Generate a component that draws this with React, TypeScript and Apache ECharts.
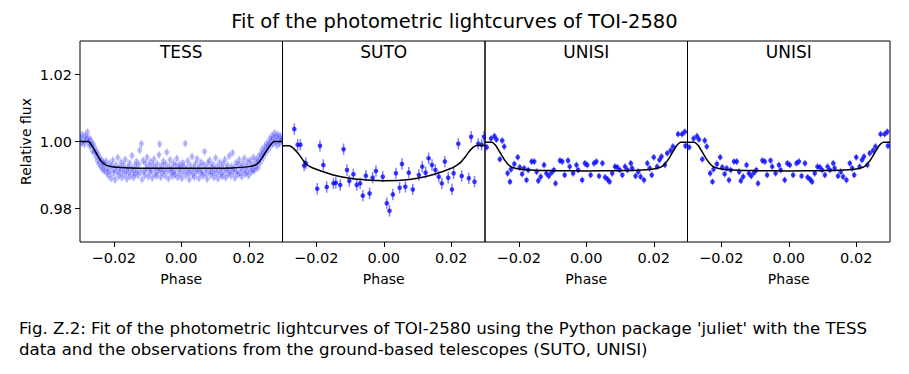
import React, { useEffect, useRef } from "react";
import * as echarts from "echarts";

const titleText = "Fit of the photometric lightcurves of TOI-2580";
const panelNames = ["TESS", "SUTO", "UNISI", "UNISI"];
const xTicks = [-0.02, 0, 0.02];
const yTicks = [0.98, 1.0, 1.02];
const xRange = [-0.03, 0.03];
const yRange = [0.97, 1.03];
const xLabel = "Phase";
const yLabel = "Relative flux";
const captionLines = [
  "Fig. Z.2: Fit of the photometric lightcurves of TOI-2580 using the Python package 'juliet' with the TESS",
  "data and the observations from the ground-based telescopes (SUTO, UNISI)",
];

const tessErr = 0.0012;
const sutoErr = 0.0017;
const unisiErr = 0.001;

const tessPoints = [
  [-0.0299, 1.0012], [-0.0296, 0.9995], [-0.0293, 1.0021], [-0.029, 1.0004], [-0.0287, 0.9991], [-0.0284, 1.0017],
  [-0.0281, 1.0008], [-0.0278, 1.0028], [-0.0276, 0.9998], [-0.0273, 1.001], [-0.0271, 0.9986], [-0.0268, 1.0003],
  [-0.0266, 0.999], [-0.0263, 0.9972], [-0.0261, 0.9993], [-0.0258, 0.9968], [-0.0256, 0.9981], [-0.0253, 0.9955],
  [-0.0251, 0.997], [-0.0248, 0.9942], [-0.0246, 0.9962], [-0.0243, 0.9933], [-0.0241, 0.9951], [-0.0238, 0.9925],
  [-0.0236, 0.9944], [-0.0233, 0.9918], [-0.0231, 0.9937], [-0.0228, 0.9912], [-0.0226, 0.993], [-0.0223, 0.9941],
  [-0.0221, 0.9908], [-0.0218, 0.9921], [-0.0216, 0.9899], [-0.0213, 0.9934], [-0.0211, 0.9912], [-0.0208, 0.989],
  [-0.0206, 0.9927], [-0.0203, 0.9944], [-0.0201, 0.9905], [-0.0198, 0.9918], [-0.0196, 0.9886], [-0.0193, 0.993],
  [-0.0191, 0.9911], [-0.0188, 0.9952], [-0.0186, 0.9897], [-0.0183, 0.9922], [-0.0181, 0.9908], [-0.0178, 0.9938],
  [-0.0176, 0.9892], [-0.0173, 0.9915], [-0.0171, 0.9929], [-0.0168, 0.9901], [-0.0166, 0.9946], [-0.0163, 0.9913],
  [-0.0161, 0.9888], [-0.0158, 0.9924], [-0.0156, 0.9907], [-0.0153, 0.9936], [-0.0151, 0.9896], [-0.0148, 0.9919],
  [-0.0146, 0.9958], [-0.0143, 0.991], [-0.0141, 0.9893], [-0.0138, 0.9927], [-0.0136, 0.9904], [-0.0133, 0.994],
  [-0.0131, 0.9916], [-0.0128, 0.9899], [-0.0126, 0.9931], [-0.0123, 0.9974], [-0.0121, 0.9909], [-0.0118, 0.9993],
  [-0.0116, 0.9887], [-0.0113, 0.9943], [-0.0111, 0.9912], [-0.0108, 0.99], [-0.0106, 0.9935], [-0.0103, 0.9918],
  [-0.0101, 0.9953], [-0.0098, 0.9895], [-0.0096, 0.9926], [-0.0093, 0.9908], [-0.0091, 0.9939], [-0.0088, 0.9914],
  [-0.0086, 0.9891], [-0.0083, 0.9929], [-0.0081, 0.9947], [-0.0078, 0.9903], [-0.0076, 0.992], [-0.0073, 0.9897],
  [-0.0071, 0.9933], [-0.0068, 0.9911], [-0.0066, 0.996], [-0.0064, 0.9992], [-0.0063, 0.9917], [-0.0061, 0.9893],
  [-0.0058, 0.9928], [-0.0056, 0.9906], [-0.0053, 0.9941], [-0.0051, 0.9915], [-0.0048, 0.9898], [-0.0046, 0.9932],
  [-0.0043, 0.9968], [-0.0041, 0.9913], [-0.0038, 0.9889], [-0.0036, 0.9924], [-0.0033, 0.9945], [-0.0031, 0.9907],
  [-0.0028, 0.9919], [-0.0026, 0.9896], [-0.0023, 0.9935], [-0.0021, 0.9911], [-0.0018, 0.9902], [-0.0016, 0.9928],
  [-0.0013, 0.9949], [-0.0011, 0.9893], [-0.0008, 0.9916], [-0.0006, 0.9931], [-0.0003, 0.9904], [-0.0001, 0.9922],
  [0.0002, 0.989], [0.0004, 0.9937], [0.0007, 0.991], [0.0009, 0.9926], [0.0012, 0.9994], [0.0014, 0.9899],
  [0.0017, 0.9918], [0.0019, 0.9942], [0.0022, 0.9906], [0.0024, 0.9887], [0.0027, 0.9929], [0.0029, 0.9913],
  [0.0032, 0.9955], [0.0034, 0.9901], [0.0037, 0.9921], [0.0039, 0.9894], [0.0042, 0.9934], [0.0044, 0.9909],
  [0.0047, 0.9948], [0.0049, 0.9916], [0.0052, 0.989], [0.0054, 0.9925], [0.0057, 0.9906], [0.0059, 0.9938],
  [0.0062, 0.9912], [0.0064, 0.9897], [0.0067, 0.993], [0.0069, 0.997], [0.0072, 0.9903], [0.0074, 0.9919],
  [0.0077, 0.9888], [0.0079, 0.9935], [0.0082, 0.9911], [0.0084, 0.9944], [0.0087, 0.99], [0.0089, 0.9923],
  [0.0092, 0.9908], [0.0094, 0.9932], [0.0097, 0.9893], [0.0099, 0.9917], [0.0102, 0.9951], [0.0104, 0.9905],
  [0.0107, 0.9926], [0.0109, 0.9889], [0.0112, 0.9914], [0.0114, 0.9938], [0.0117, 0.9902], [0.0119, 0.9921],
  [0.0122, 0.9896], [0.0124, 0.9933], [0.0127, 0.991], [0.0129, 0.9946], [0.0132, 0.9892], [0.0134, 0.9918],
  [0.0137, 0.9929], [0.0139, 0.9904], [0.0142, 0.9957], [0.0144, 0.9913], [0.0147, 0.9898], [0.0149, 0.9925],
  [0.0152, 0.9966], [0.0154, 0.9909], [0.0157, 0.992], [0.0159, 0.9891], [0.0162, 0.9936], [0.0164, 0.9912],
  [0.0167, 0.9901], [0.0169, 0.993], [0.0172, 0.9945], [0.0174, 0.9906], [0.0177, 0.9922], [0.0179, 0.9895],
  [0.0182, 0.9934], [0.0184, 0.9915], [0.0187, 0.995], [0.0189, 0.9903], [0.0192, 0.9926], [0.0194, 0.991],
  [0.0197, 0.9939], [0.0199, 0.9898], [0.0202, 0.9921], [0.0204, 0.9944], [0.0207, 0.9908], [0.0209, 0.993],
  [0.0212, 0.9916], [0.0214, 0.9952], [0.0217, 0.9913], [0.0219, 0.9935], [0.0222, 0.9925], [0.0224, 0.9948],
  [0.0227, 0.9921], [0.0229, 0.9942], [0.0232, 0.996], [0.0234, 0.9936], [0.0237, 0.9958], [0.0239, 0.9975],
  [0.0242, 0.9949], [0.0244, 0.9968], [0.0247, 0.9985], [0.0249, 0.9963], [0.0252, 0.9979], [0.0254, 0.9995],
  [0.0257, 0.9974], [0.0259, 0.9991], [0.0262, 1.0008], [0.0264, 0.9986], [0.0267, 1.0002], [0.0269, 1.0018],
  [0.0272, 0.9993], [0.0274, 1.0011], [0.0277, 1.0026], [0.0279, 0.9999], [0.0282, 1.0014], [0.0284, 0.9988],
  [0.0287, 1.0021], [0.0289, 1.0005], [0.0292, 0.9994], [0.0294, 1.0016], [0.0297, 1.0002], [0.0299, 1.001],
];

const sutoPoints = [
  [-0.0265, 1.0037], [-0.0255, 0.999], [-0.0247, 0.999], [-0.0236, 0.9928], [-0.0231, 0.9935], [-0.0197, 0.9859],
  [-0.0189, 0.9987], [-0.0179, 0.993], [-0.0169, 0.9864], [-0.0149, 0.9875], [-0.0142, 0.9877], [-0.0129, 0.987],
  [-0.0119, 0.9977], [-0.0109, 0.9915], [-0.0102, 0.9882], [-0.009, 0.9902], [-0.008, 0.987], [-0.007, 0.9875],
  [-0.0062, 0.9838], [-0.0053, 0.9898], [-0.0042, 0.9845], [-0.0033, 0.9892], [-0.0023, 0.9912], [-0.0003, 0.9895],
  [0.0009, 0.9816], [0.0017, 0.9793], [0.0027, 0.9842], [0.0036, 0.9905], [0.0047, 0.9862], [0.0054, 0.9933],
  [0.0064, 0.9865], [0.0074, 0.9907], [0.0086, 0.9857], [0.0104, 0.99], [0.0114, 0.9925], [0.0124, 0.9907],
  [0.0133, 0.995], [0.0143, 0.993], [0.0153, 0.9915], [0.0163, 0.9895], [0.0172, 0.9875], [0.0181, 0.994],
  [0.0191, 0.9892], [0.0202, 0.9857], [0.0207, 0.9905], [0.0221, 0.9993], [0.0231, 0.9897], [0.0252, 0.989],
  [0.0259, 1.0014], [0.0269, 0.988], [0.028, 0.9993], [0.029, 0.999], [0.0297, 1.0014],
];

const unisiPoints = [
  [-0.0295, 0.9983], [-0.0282, 1.0009], [-0.0272, 1.0016], [-0.0266, 1.0006], [-0.0256, 0.9947], [-0.0249, 1.0003],
  [-0.0243, 0.9985], [-0.0233, 0.9905], [-0.0226, 0.988], [-0.0223, 0.9917], [-0.0213, 0.9933], [-0.0203, 0.9953],
  [-0.0197, 0.9923], [-0.019, 0.9903], [-0.0184, 0.992], [-0.0177, 0.9885], [-0.0172, 0.9915], [-0.0162, 0.994],
  [-0.0154, 0.994], [-0.0147, 0.991], [-0.0142, 0.9883], [-0.0135, 0.9895], [-0.0125, 0.993], [-0.0118, 0.9905],
  [-0.0111, 0.9897], [-0.0103, 0.9907], [-0.0096, 0.9915], [-0.0091, 0.9875], [-0.0078, 0.9943], [-0.0071, 0.994],
  [-0.0064, 0.99], [-0.0054, 0.9943], [-0.0049, 0.9925], [-0.0039, 0.9905], [-0.0029, 0.993], [-0.0024, 0.9915],
  [-0.0012, 0.9885], [-0.0004, 0.9935], [0.0003, 0.993], [0.0013, 0.99], [0.0023, 0.9935], [0.003, 0.994],
  [0.0038, 0.9897], [0.0048, 0.9935], [0.0056, 0.9893], [0.0063, 0.9887], [0.0069, 0.988], [0.0077, 0.9905],
  [0.0085, 0.9925], [0.0092, 0.9923], [0.0099, 0.9915], [0.0107, 0.99], [0.0115, 0.9925], [0.0122, 0.9915],
  [0.0132, 0.9935], [0.0136, 0.992], [0.0146, 0.9897], [0.0154, 0.991], [0.0161, 0.9895], [0.0171, 0.9885],
  [0.0181, 0.9935], [0.0188, 0.992], [0.0194, 0.99], [0.02, 0.9953], [0.021, 0.9925], [0.0217, 0.9945],
  [0.0223, 0.9955], [0.0233, 0.993], [0.024, 0.9965], [0.025, 0.9973], [0.0257, 0.9985], [0.0272, 1.0022],
  [0.0284, 1.0022], [0.0292, 1.0029], [0.0294, 0.9987],
];

const tessModel = [
  [-0.03, 1.0], [-0.0275, 1.0], [-0.027, 0.9995], [-0.026, 0.998], [-0.025, 0.9962], [-0.024, 0.9945],
  [-0.023, 0.9934], [-0.022, 0.9928], [-0.02, 0.9924], [-0.015, 0.9921], [-0.01, 0.992], [0, 0.992],
  [0.01, 0.992], [0.015, 0.9921], [0.02, 0.9925], [0.022, 0.993], [0.023, 0.9938], [0.024, 0.9952],
  [0.025, 0.9968], [0.026, 0.9984], [0.027, 0.9996], [0.0275, 1.0], [0.03, 1.0],
];

const sutoModel = [
  [-0.03, 0.9987], [-0.028, 0.9987], [-0.027, 0.9982], [-0.026, 0.9972], [-0.025, 0.996], [-0.024, 0.9945],
  [-0.023, 0.9933], [-0.022, 0.9926], [-0.02, 0.9917], [-0.015, 0.99], [-0.01, 0.989], [-0.005, 0.9885],
  [0, 0.9883], [0.005, 0.9884], [0.01, 0.989], [0.015, 0.9902], [0.02, 0.992], [0.022, 0.9932],
  [0.023, 0.994], [0.024, 0.9952], [0.025, 0.9966], [0.026, 0.9978], [0.027, 0.9986], [0.028, 0.9988],
  [0.03, 0.9988],
];

const unisiModel = [
  [-0.03, 0.9998], [-0.028, 0.9998], [-0.027, 0.999], [-0.026, 0.9975], [-0.025, 0.9958], [-0.024, 0.9942],
  [-0.023, 0.993], [-0.022, 0.9923], [-0.02, 0.9918], [-0.015, 0.9914], [-0.01, 0.9913], [0, 0.9912],
  [0.01, 0.9913], [0.015, 0.9914], [0.02, 0.9918], [0.022, 0.9923], [0.023, 0.993], [0.024, 0.9942],
  [0.025, 0.9958], [0.026, 0.9975], [0.027, 0.999], [0.028, 0.9998], [0.03, 0.9998],
];

const FONT = "DejaVu Sans";
const plotLeft = 80;
const plotRight = 890;
const plotTop = 41;
const plotBottom = 242;

const fmt = (v: number) => (v < 0 ? "\u2212" : "") + Math.abs(v).toFixed(2);

export default function App() {
  const ref = useRef<HTMLDivElement>(null);
  useEffect(() => {
    if (!ref.current) return;
    const chart = echarts.init(ref.current, null, { renderer: "svg" });
    const panels = [
      { points: tessPoints, model: tessModel, err: tessErr, dot: "rgba(0,0,255,0.22)", bar: "rgba(0,0,255,0.18)", r: 2.7 },
      { points: sutoPoints, model: sutoModel, err: sutoErr, dot: "rgba(0,0,255,0.75)", bar: "rgba(0,0,255,0.5)", r: 2.3 },
      { points: unisiPoints, model: unisiModel, err: unisiErr, dot: "rgba(0,0,255,0.75)", bar: "rgba(0,0,255,0.5)", r: 2.3 },
      { points: unisiPoints, model: unisiModel, err: unisiErr, dot: "rgba(0,0,255,0.75)", bar: "rgba(0,0,255,0.5)", r: 2.3 },
    ];
    const pw = (plotRight - plotLeft) / panels.length;
    const grids = panels.map((_, i) => ({
      left: plotLeft + i * pw,
      width: pw,
      top: plotTop,
      height: plotBottom - plotTop,
      show: true,
      borderColor: "#000",
      borderWidth: 1,
      backgroundColor: "transparent",
      containLabel: false,
    }));
    const xAxes = panels.map((_, i) => ({
      type: "value",
      gridIndex: i,
      min: xRange[0],
      max: xRange[1],
      name: xLabel,
      nameLocation: "middle",
      nameGap: 30,
      nameTextStyle: { fontFamily: FONT, fontSize: 14, color: "#000" },
      axisLine: { show: false, onZero: false },
      splitLine: { show: false },
      axisTick: { show: true, inside: false, length: 5, customValues: xTicks, lineStyle: { color: "#000" } },
      axisLabel: { customValues: xTicks, formatter: fmt, fontFamily: FONT, fontSize: 14.5, color: "#000", margin: 8 },
    }));
    const yAxes = panels.map((_, i) => ({
      type: "value",
      gridIndex: i,
      min: yRange[0],
      max: yRange[1],
      show: i === 0,
      name: i === 0 ? yLabel : "",
      nameLocation: "middle",
      nameGap: 47,
      nameRotate: 90,
      nameTextStyle: { fontFamily: FONT, fontSize: 14, color: "#000" },
      axisLine: { show: false, onZero: false },
      splitLine: { show: false },
      axisTick: { show: true, inside: false, length: 5, customValues: yTicks, lineStyle: { color: "#000" } },
      axisLabel: { customValues: yTicks, formatter: (v: number) => v.toFixed(2), fontFamily: FONT, fontSize: 14.5, color: "#000", margin: 8 },
    }));
    const series: any[] = [];
    panels.forEach((p, i) => {
      series.push({
        type: "custom",
        xAxisIndex: i,
        yAxisIndex: i,
        clip: true,
        z: 2,
        data: p.points.map((d) => [d[0], d[1], p.err]),
        renderItem: (_params: any, api: any) => {
          const x = api.value(0);
          const y = api.value(1);
          const e = api.value(2);
          const a = api.coord([x, y + e]);
          const b = api.coord([x, y - e]);
          const c = api.coord([x, y]);
          return {
            type: "group",
            children: [
              { type: "line", shape: { x1: a[0], y1: a[1], x2: b[0], y2: b[1] }, style: { stroke: p.bar, lineWidth: 1.5 } },
              { type: "circle", shape: { cx: c[0], cy: c[1], r: p.r }, style: { fill: p.dot } },
            ],
          };
        },
      });
      series.push({
        type: "line",
        xAxisIndex: i,
        yAxisIndex: i,
        data: p.model,
        showSymbol: false,
        smooth: 0.25,
        z: 5,
        lineStyle: { color: "#000", width: 1.5 },
        silent: true,
      });
    });
    const graphics: any[] = panelNames.map((n, i) => ({
      type: "text",
      x: plotLeft + (i + 0.5) * pw,
      y: plotTop + 11,
      z: 10,
      style: { text: n, fontFamily: FONT, fontSize: 17, fill: "#000", align: "center", verticalAlign: "middle" },
    }));
    captionLines.forEach((line, i) => {
      graphics.push({
        type: "text",
        x: 19,
        y: 328 + i * 21,
        style: { text: line, fontFamily: FONT, fontSize: 16.6, fill: "#000", align: "left", verticalAlign: "middle" },
      });
    });
    chart.setOption({
      animation: false,
      backgroundColor: "#fff",
      title: {
        text: titleText,
        left: "center",
        top: 6,
        textStyle: { fontFamily: FONT, fontSize: 19.5, fontWeight: "normal", color: "#000" },
      },
      grid: grids,
      xAxis: xAxes,
      yAxis: yAxes,
      series,
      graphic: graphics,
    });
    return () => chart.dispose();
  }, []);
  return <div ref={ref} style={{ position: "fixed", left: 0, top: 0, width: 909, height: 374 }} />;
}
